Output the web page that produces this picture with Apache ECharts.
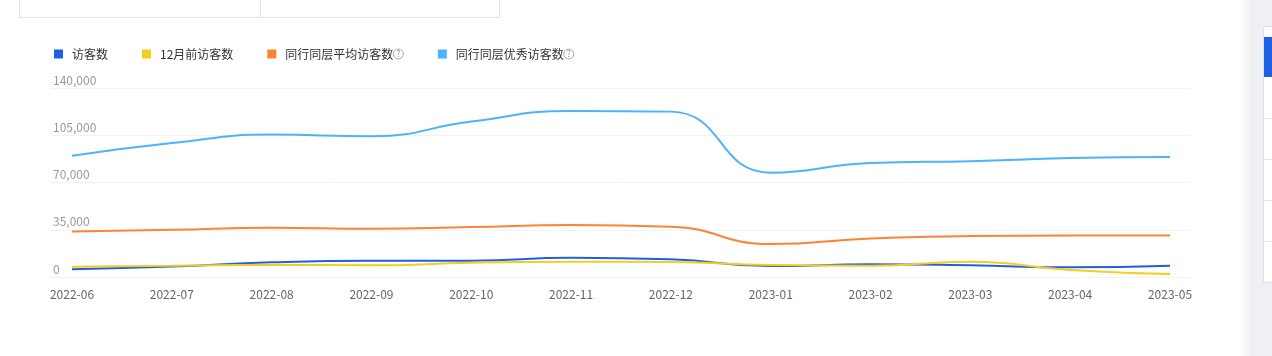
<!DOCTYPE html>
<html>
<head>
<meta charset="utf-8">
<script src="https://cdn.jsdelivr.net/npm/echarts@6/dist/echarts.min.js"></script>
<style>
html,body{margin:0;padding:0;background:#fff;}
#main{width:1272px;height:356px;}
</style>
</head>
<body>
<div id="main"></div>
<script>
var categories = ['2022-06','2022-07','2022-08','2022-09','2022-10','2022-11','2022-12','2023-01','2023-02','2023-03','2023-04','2023-05'];
var seriesNames = ['访客数','12月前访客数','同行同层平均访客数','同行同层优秀访客数'];
var visitors  = [5700, 7800, 10900, 12100, 12100, 14300, 13100, 8100, 9400, 8650, 7200, 8400];
var lastYear  = [7600, 8300, 9100, 8650, 10600, 11300, 11100, 8900, 8400, 11300, 5200, 2200];
var peerAvg   = [33700, 35000, 36500, 35700, 37000, 38500, 37200, 24400, 28600, 30300, 30800, 30800];
var peerTop   = [89800, 99200, 105500, 104300, 115100, 123000, 122500, 77200, 84400, 85800, 88100, 88800];
var yTicks    = [0, 35000, 70000, 105000, 140000];

var colors = ['#1e5fe6', '#f4cd1e', '#fe8433', '#4cb3fe'];
var FONT = 'Noto Sans CJK SC';
var chart = echarts.init(document.getElementById('main'), null, {renderer: 'canvas'});

var yMin = yTicks[0], yMax = yTicks[yTicks.length - 1], yInt = yTicks[1] - yTicks[0];
var dataSets = [visitors, lastYear, peerAvg, peerTop];

var option = {
  backgroundColor: '#fff',
  color: colors,
  textStyle: {fontFamily: FONT},
  animation: false,
  legend: {
    left: 54, top: 48, padding: 0,
    itemWidth: 9, itemHeight: 9, itemGap: 34,
    icon: 'rect',
    data: seriesNames,
    formatter: function (name) {
      var i = seriesNames.indexOf(name);
      return i >= 2 ? '{t|' + name + '}{q|?}' : '{t|' + name + '}';
    },
    textStyle: {
      color: '#333', fontSize: 12, fontFamily: FONT, padding: [0, 0, 0, 4],
      rich: {
        t: {color: '#333', fontSize: 12, fontFamily: FONT},
        q: {color: '#999', fontSize: 9, width: 10, height: 10, lineHeight: 11, align: 'center',
            borderColor: '#aaa', borderWidth: 1, borderRadius: 6, fontFamily: FONT}
      }
    }
  },
  grid: [
    {left: 51, right: 82, top: 88, bottom: 79},
    {left: 72, right: 102, top: 88, bottom: 79}
  ],
  xAxis: [
    {gridIndex: 0, type: 'category', data: categories, show: false},
    {gridIndex: 1, type: 'category', data: categories, boundaryGap: false,
     axisLine: {show: false}, axisTick: {show: false},
     axisLabel: {color: '#666', fontSize: 12, margin: 11, fontFamily: FONT, interval: 0}}
  ],
  yAxis: [
    {gridIndex: 0, type: 'value', min: yMin, max: yMax, interval: yInt,
     axisLine: {show: false}, axisTick: {show: false},
     splitLine: {lineStyle: {color: '#f0f2f7', width: 1}},
     axisLabel: {inside: true, align: 'left', verticalAlign: 'bottom', margin: 2,
       padding: [0, 0, 2, 0], color: '#999', fontSize: 12, fontFamily: FONT,
       formatter: function (v) { return v.toLocaleString('en-US'); }}},
    {gridIndex: 1, type: 'value', min: yMin, max: yMax, interval: yInt, show: false,
     splitLine: {show: false}}
  ],
  series: seriesNames.map(function (n, i) {
    return {
      name: n, type: 'line', xAxisIndex: 1, yAxisIndex: 1,
      data: dataSets[i], smooth: true, showSymbol: false, symbol: 'none',
      lineStyle: {width: 2, color: colors[i]}, itemStyle: {color: colors[i]}
    };
  }),
  graphic: [
    {type: 'rect', shape: {x: 19.5, y: -1, width: 480, height: 18.5}, style: {fill: '#fff', stroke: '#dde5ee', lineWidth: 1}},
    {type: 'line', shape: {x1: 260.5, y1: 0, x2: 260.5, y2: 17}, style: {stroke: '#dde5ee', lineWidth: 1}},
    {type: 'rect', shape: {x: 1240, y: 0, width: 10, height: 356},
     style: {fill: new echarts.graphic.LinearGradient(0, 0, 1, 0, [{offset: 0, color: 'rgba(0,0,0,0)'}, {offset: 1, color: 'rgba(0,0,0,0.05)'}])}},
    {type: 'rect', shape: {x: 1250, y: 0, width: 22, height: 356}, style: {fill: '#eef0f4'}},
    {type: 'rect', shape: {x: 1263.5, y: 26.5, width: 20, height: 255.5}, style: {fill: '#fff', stroke: '#dcdfe6', lineWidth: 1}},
    {type: 'rect', shape: {x: 1264, y: 37, width: 10, height: 40}, style: {fill: '#1f5fe5'}},
    {type: 'line', shape: {x1: 1264, y1: 118.5, x2: 1272, y2: 118.5}, style: {stroke: '#e2e5ec', lineWidth: 1}},
    {type: 'line', shape: {x1: 1264, y1: 159.5, x2: 1272, y2: 159.5}, style: {stroke: '#e2e5ec', lineWidth: 1}},
    {type: 'line', shape: {x1: 1264, y1: 200.5, x2: 1272, y2: 200.5}, style: {stroke: '#e2e5ec', lineWidth: 1}},
    {type: 'line', shape: {x1: 1264, y1: 241.5, x2: 1272, y2: 241.5}, style: {stroke: '#e2e5ec', lineWidth: 1}}
  ]
};
chart.setOption(option);
</script>
</body>
</html>
